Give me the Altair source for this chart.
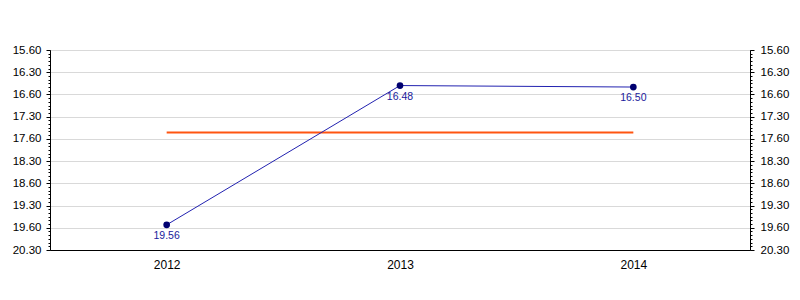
import altair as alt
import pandas as pd
import numpy as np

# ---- data ----
years = ["2012", "2013", "2014"]
times = [19.56, 16.48, 16.50]          # shown as m.ss
y_tick_labels = ["15.60", "16.30", "16.60", "17.30", "17.60",
                 "18.30", "18.60", "19.30", "19.60", "20.30"]
y_tick_minutes = [16.0, 16.5, 17.0, 17.5, 18.0, 18.5, 19.0, 19.5, 20.0, 20.5]

df = pd.DataFrame({"year": years, "t": times})

minor_vals = [round(16.0 + i / 12.0, 6) for i in range(0, 55)]
major_test = "abs(datum.value*2 - round(datum.value*2)) < 0.001"

label_expr = ""
for v, lab in zip(y_tick_minutes, y_tick_labels):
    label_expr += f"abs(datum.value - {v}) < 0.001 ? '{lab}' : "
label_expr += "''"

ydomain = [y_tick_minutes[0], y_tick_minutes[-1]]


def yaxis(orient):
    return alt.Axis(
        orient=orient,
        values=minor_vals,
        labelExpr=label_expr,
        labelOverlap=False,
        labelFont="Liberation Sans",
        labelFontSize=11.5,
        labelColor="black",
        labelPadding=5 if orient == "left" else 6,
        tickColor="black",
        tickSize={"condition": {"test": major_test, "value": 4}, "value": 2},
        domainColor="black",
        grid=orient == "left",
        gridColor={"condition": {"test": major_test, "value": "#d9d9d9"}, "value": "transparent"},
        title=None,
    )


base = alt.Chart(df).transform_calculate(
    m="floor(datum.t) + (datum.t - floor(datum.t)) * 100 / 60"
)

xenc = alt.X("year:N", sort=years,
             scale=alt.Scale(type="point", padding=0.5),
             axis=alt.Axis(title=None, labelAngle=0, ticks=False, tickSize=0,
                           labelPadding=9, labelFont="Liberation Sans",
                           labelFontSize=12, labelColor="black",
                           domainColor="black", grid=False))

yscale = alt.Scale(domain=ydomain, reverse=True, zero=False, nice=False)
LA = yaxis("left")

avg = base.transform_joinaggregate(avg="mean(m)").mark_line(
    color="#FF5511", strokeWidth=2
).encode(
    x=xenc,
    y=alt.Y("avg:Q", scale=yscale, axis=LA),
)

line = base.mark_line(color="#2222B0", strokeWidth=1).encode(
    x=xenc, y=alt.Y("m:Q", scale=yscale, axis=LA)
)
pts = base.mark_point(filled=True, color="#000070", size=45, opacity=1).encode(
    x=xenc, y=alt.Y("m:Q", scale=yscale, axis=LA)
)
txt = base.mark_text(color="#1a1a9c", fontSize=10.5, font="Liberation Sans",
                     baseline="top", dy=6).encode(
    x=xenc, y=alt.Y("m:Q", scale=yscale, axis=LA), text=alt.Text("t:Q", format=".2f")
)

left = alt.layer(avg, line, pts, txt)

right = base.mark_point(opacity=0).encode(
    x=xenc,
    y=alt.Y("m:Q", scale=yscale, axis=yaxis("right")),
)

chart = alt.layer(left, right).resolve_scale(y="independent").resolve_axis(
    y="independent"
).properties(
    width=700, height=200,
    autosize=alt.AutoSizeParams(type="none"),
    padding={"left": 50, "top": 50, "right": 50, "bottom": 50},
    background="white",
).configure_view(stroke="black", strokeWidth=1)

chart.save("out.html", embed_options={"renderer": "svg", "actions": False})
